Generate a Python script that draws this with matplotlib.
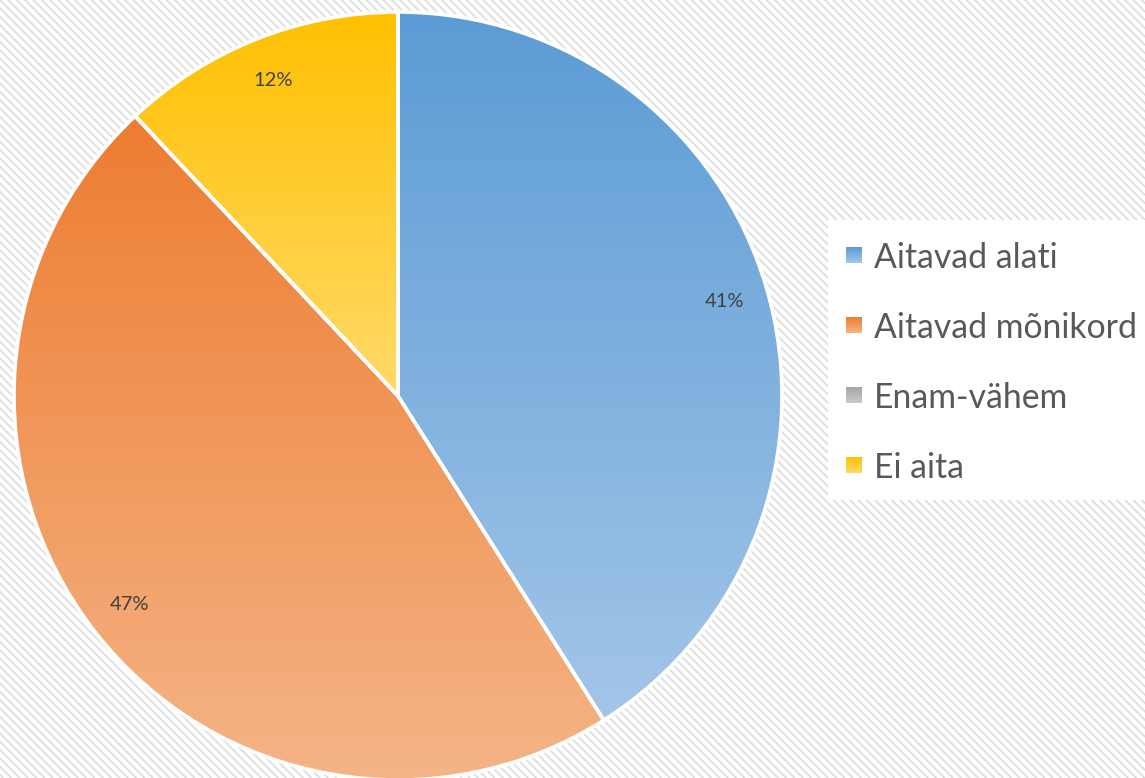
import matplotlib
matplotlib.use("Agg")
import matplotlib.pyplot as plt
import numpy as np
from matplotlib.patches import Rectangle
from matplotlib.colors import LinearSegmentedColormap

categories = ["Aitavad alati", "Aitavad mõnikord", "Enam-vähem", "Ei aita"]
values = [41, 47, 0, 12]
top_colors = ["#5B9BD5", "#ED7D31", "#A5A5A5", "#FFC000"]
bottom_colors = ["#A3C6E8", "#F5B487", "#C9C9C9", "#FFDA6A"]

plt.rcParams['font.family'] = ['Lato', 'DejaVu Sans']
plt.rcParams['hatch.linewidth'] = 1.3
plt.rcParams['hatch.color'] = '#DEDEDE'

W, H = 1145, 778
fig = plt.figure(figsize=(W / 100, H / 100), dpi=100)
ax = fig.add_axes([0, 0, 1, 1])
ax.set_xlim(0, W)
ax.set_ylim(0, H)
ax.axis('off')

# hatched background
bg = Rectangle((0, 0), W, H, facecolor='white', edgecolor='#DEDEDE', hatch='\\\\\\\\', lw=0, zorder=0)
ax.add_patch(bg)

cx, cy, r = 398, H - 396, 384
wedges, texts, autotexts = ax.pie(
    values, startangle=90, counterclock=False, center=(cx, cy), radius=r,
    colors=top_colors, autopct=lambda p: f"{p:.0f}%" if p > 0 else "",
    pctdistance=0.885, frame=True,
    wedgeprops=dict(edgecolor='white', linewidth=2.6),
    textprops=dict(fontsize=14.5, color='#404040'))
ax.set_xlim(0, W)
ax.set_ylim(0, H)
ax.axis('off')
ax.set_aspect('equal')

inv = ax.transData.inverted()
grad = np.linspace(0, 1, 256).reshape(-1, 1)
for w, tc, bc in zip(wedges, top_colors, bottom_colors):
    v = w.get_verts()
    if len(v) == 0:
        continue
    verts = inv.transform(v)
    x0, x1 = verts[:, 0].min(), verts[:, 0].max()
    y0, y1 = verts[:, 1].min(), verts[:, 1].max()
    if x1 - x0 < 1 or y1 - y0 < 1:
        continue
    cmap = LinearSegmentedColormap.from_list("g", [tc, bc])
    im = ax.imshow(grad, extent=(x0, x1, y0, y1), origin='upper', cmap=cmap,
                   aspect='auto', zorder=w.get_zorder() + 0.1, interpolation='bilinear')
    im.set_clip_path(w)
    w.set_facecolor('none')
    w.set_zorder(w.get_zorder() + 0.2)
for t in autotexts:
    t.set_zorder(5)

# legend
ax.add_patch(Rectangle((828, H - 500), W - 828, 280, facecolor='white', edgecolor='none', zorder=3))
for i, (lab, tc, bc) in enumerate(zip(categories, top_colors, bottom_colors)):
    yc = H - (255 + 70 * i)
    cmap = LinearSegmentedColormap.from_list("g", [tc, bc])
    ax.imshow(grad, extent=(846, 862, yc - 8, yc + 8), origin='upper', cmap=cmap,
              aspect='auto', zorder=4)
    ax.text(874, yc, lab, fontsize=24.3, color='#595959', va='center_baseline', ha='left', zorder=5)

ax.set_xlim(0, W)
ax.set_ylim(0, H)
fig.savefig("out.png", dpi=100)
